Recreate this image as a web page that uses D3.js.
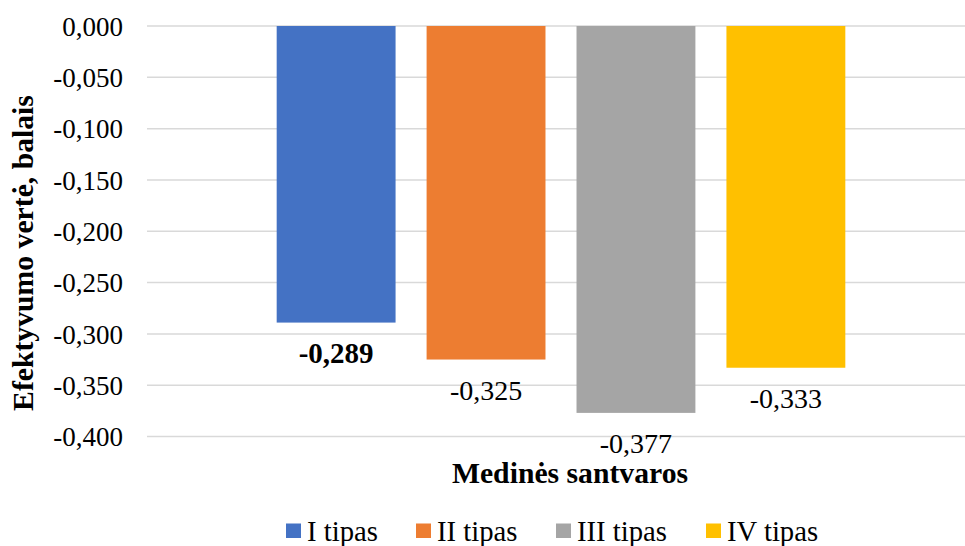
<!DOCTYPE html>
<html>
<head>
<meta charset="utf-8">
<script src="https://cdn.jsdelivr.net/npm/d3@7"></script>
<style>
  html, body { margin: 0; padding: 0; background: #fff; }
  svg { display: block; }
</style>
</head>
<body>
<svg id="chart" width="965" height="546"></svg>
<script>
// Efficiency values of the four timber truss types
const seriesNames = ["I tipas", "II tipas", "III tipas", "IV tipas"];
const seriesValues = [-0.289, -0.325, -0.377, -0.333];
const seriesColors = ["#4472c4", "#ed7d31", "#a5a5a5", "#ffc000"];
const boldLabel = [true, false, false, false];
const yTicks = [0, -0.05, -0.1, -0.15, -0.2, -0.25, -0.3, -0.35, -0.4];
const xTitle = "Medinės santvaros";
const yTitle = "Efektyvumo vertė, balais";

const FONT = "'Liberation Serif'";
const svg = d3.select("#chart");
const plot = { left: 147, right: 975, top: 26, bottom: 436.5 };

const fmt = v => d3.format(".3f")(v).replace(".", ",").replace("−", "-");

const y = d3.scaleLinear().domain([0, -0.4]).range([plot.top, plot.bottom]);

// Series bars within the single category, with gaps between them
const x = d3.scaleBand()
  .domain(seriesNames)
  .range([plot.left, plot.right])
  .paddingInner(0.207)
  .paddingOuter(0.865);

// Horizontal gridlines
svg.append("g")
  .selectAll("line")
  .data(yTicks)
  .join("line")
  .attr("x1", plot.left)
  .attr("x2", plot.right)
  .attr("y1", d => y(d))
  .attr("y2", d => y(d))
  .attr("stroke", "#d9d9d9")
  .attr("stroke-width", 1.5);

// Y axis tick labels
const yAxis = d3.axisLeft(y).tickValues(yTicks).tickFormat(fmt).tickSize(0).tickPadding(0);
const ya = svg.append("g").attr("transform", `translate(${plot.left - 24},0)`).call(yAxis);
ya.attr("font-family", null).attr("font-size", null);
ya.select(".domain").remove();
ya.selectAll("text")
  .style("font-family", FONT)
  .style("font-size", "27px")
  .attr("fill", "#000")
  .attr("dy", "0.34em");

// Bars
svg.append("g")
  .selectAll("rect")
  .data(seriesNames)
  .join("rect")
  .attr("x", d => x(d))
  .attr("width", x.bandwidth())
  .attr("y", y(0))
  .attr("height", (d, i) => y(seriesValues[i]) - y(0))
  .attr("fill", (d, i) => seriesColors[i]);

// Value labels below each bar end
svg.append("g")
  .selectAll("text")
  .data(seriesNames)
  .join("text")
  .attr("x", d => x(d) + x.bandwidth() / 2)
  .attr("y", (d, i) => y(seriesValues[i]) + 40)
  .attr("text-anchor", "middle")
  .style("font-family", FONT)
  .style("font-size", (d, i) => boldLabel[i] ? "29px" : "28px")
  .style("font-weight", (d, i) => boldLabel[i] ? "bold" : "normal")
  .attr("fill", "#000")
  .text((d, i) => fmt(seriesValues[i]));

// Axis titles
svg.append("text")
  .attr("x", 570)
  .attr("y", 482.5)
  .attr("text-anchor", "middle")
  .style("font-family", FONT)
  .style("font-size", "29.7px")
  .style("font-weight", "bold")
  .text(xTitle);

svg.append("text")
  .attr("transform", "translate(33,253) rotate(-90)")
  .attr("text-anchor", "middle")
  .style("font-family", FONT)
  .style("font-size", "29.7px")
  .style("font-weight", "bold")
  .text(yTitle);

// Legend
const legendX = [286, 416, 556, 706];
const lg = svg.append("g")
  .selectAll("g")
  .data(seriesNames)
  .join("g")
  .attr("transform", (d, i) => `translate(${legendX[i]},0)`);
lg.append("rect")
  .attr("x", 0).attr("y", 523.5)
  .attr("width", 15).attr("height", 14.5)
  .attr("fill", (d, i) => seriesColors[i]);
lg.append("text")
  .attr("x", 21).attr("y", 540.5)
  .style("font-family", FONT)
  .style("font-size", "28.7px")
  .attr("fill", "#000")
  .text(d => d);
</script>
</body>
</html>
